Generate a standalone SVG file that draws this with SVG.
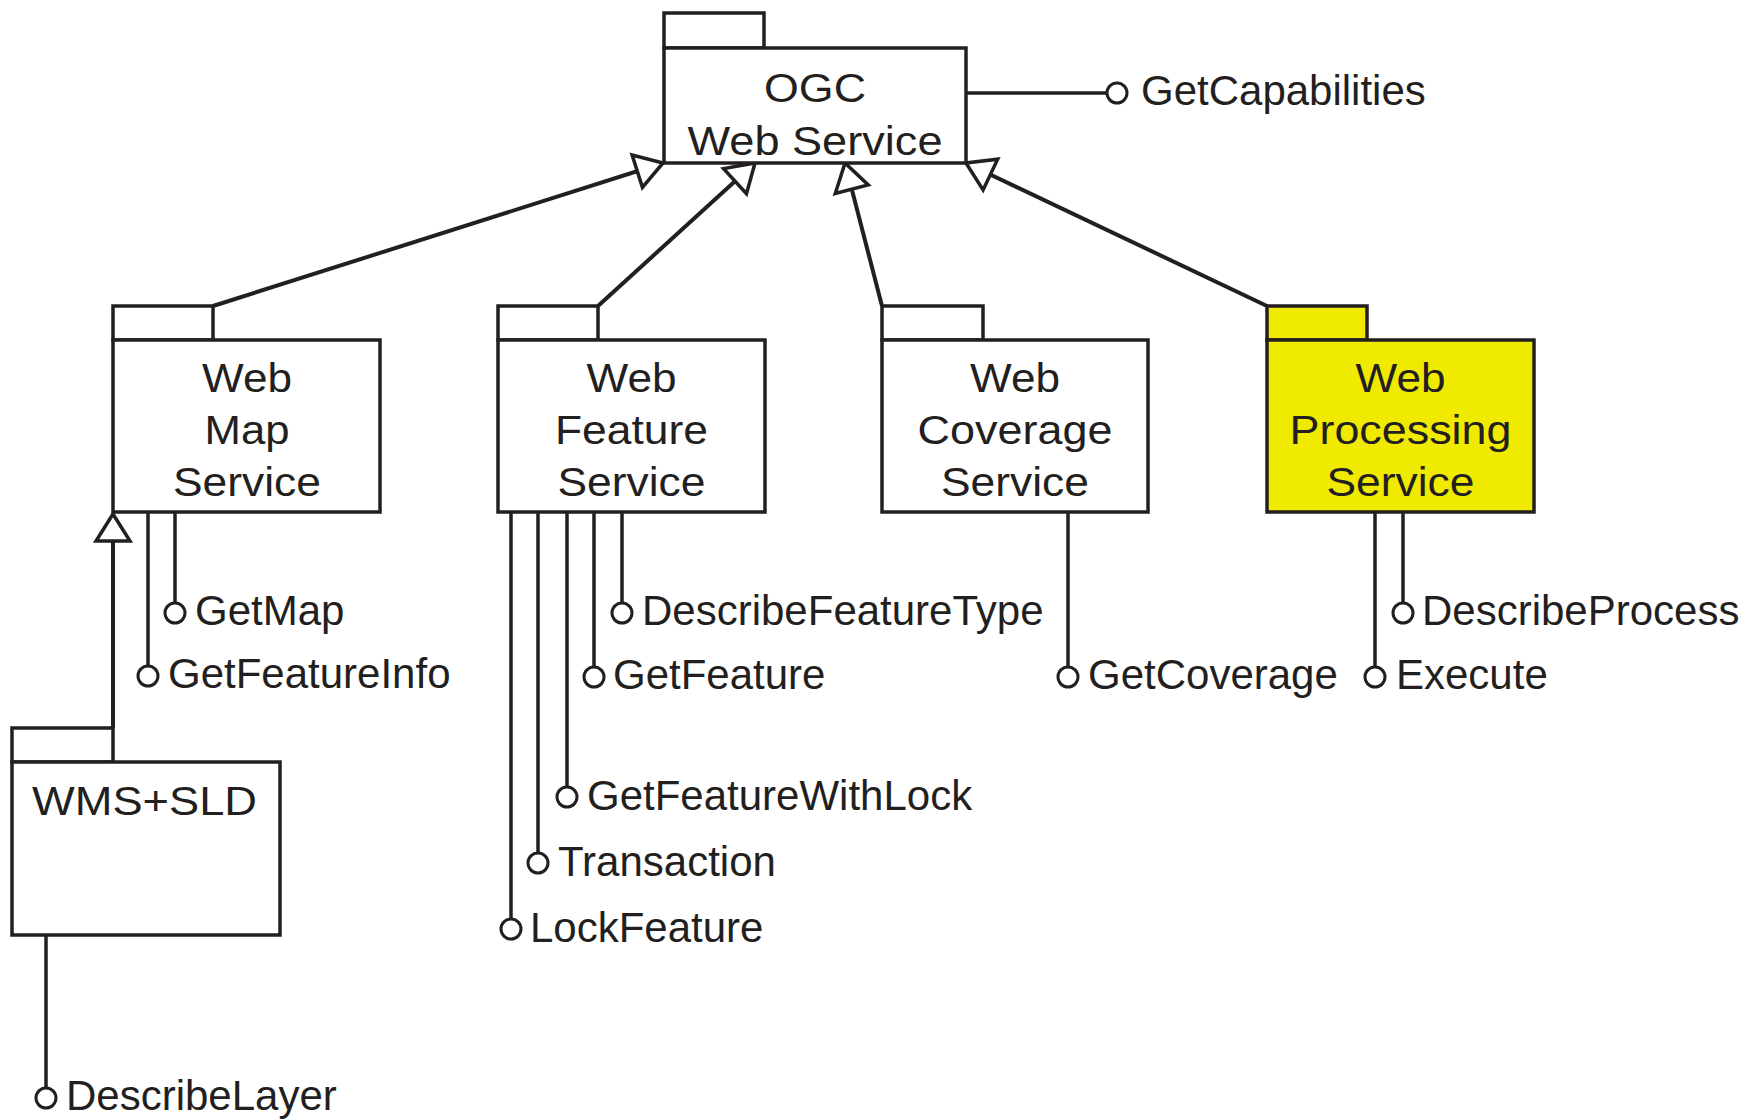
<svg xmlns="http://www.w3.org/2000/svg" width="1748" height="1120" viewBox="0 0 1748 1120">
<style>
.box{fill:#fff;stroke:#231F20;stroke-width:3.5}
.yel{fill:#F0E900;stroke:#231F20;stroke-width:3.5}
.ln{fill:none;stroke:#231F20;stroke-width:3.5}
.gl{fill:none;stroke:#231F20;stroke-width:4}
.ball{fill:#fff;stroke:#231F20;stroke-width:3}
.t{font-family:"Liberation Sans",Arial,sans-serif;font-size:41px;fill:#231F20}
.op{font-size:42px}
.c{text-anchor:middle}
</style>
<defs>
<marker id="gen" markerUnits="userSpaceOnUse" markerWidth="60" markerHeight="60" viewBox="-40 -30 50 60" refX="0" refY="0" orient="auto" overflow="visible">
<path d="M0,0 L-27,-17 L-27,17 Z" fill="#fff" stroke="#231F20" stroke-width="3.5"/>
</marker>
</defs>
<rect width="1748" height="1120" fill="#fff"/>

<g id="connectors">
<line class="gl" x1="213" y1="306" x2="663" y2="163" marker-end="url(#gen)"/>
<line class="gl" x1="598" y1="306" x2="755" y2="163" marker-end="url(#gen)"/>
<line class="gl" x1="882" y1="306" x2="845" y2="163" marker-end="url(#gen)"/>
<line class="gl" x1="1267" y1="306" x2="966" y2="163" marker-end="url(#gen)"/>
<line class="gl" x1="113" y1="728" x2="113" y2="514" marker-end="url(#gen)"/>
</g>

<g id="ogc">
<rect class="box" x="664" y="13" width="100" height="35"/>
<rect class="box" x="664" y="48" width="302" height="115"/>
<text class="t c" x="815" y="102" textLength="102" lengthAdjust="spacingAndGlyphs">OGC</text>
<text class="t c" x="815" y="155" textLength="255" lengthAdjust="spacingAndGlyphs">Web Service</text>
</g>
<g id="op-getcapabilities">
<line class="ln" x1="966" y1="93" x2="1107" y2="93"/>
<circle class="ball" cx="1117" cy="93" r="10"/>
<text class="t op" x="1141" y="105">GetCapabilities</text>
</g>

<g id="wms">
<rect class="box" x="113" y="306" width="100" height="34"/>
<rect class="box" x="113" y="340" width="267" height="172"/>
<text class="t c" x="247" y="392" textLength="90" lengthAdjust="spacingAndGlyphs">Web</text>
<text class="t c" x="247" y="444" textLength="85" lengthAdjust="spacingAndGlyphs">Map</text>
<text class="t c" x="247" y="496" textLength="148" lengthAdjust="spacingAndGlyphs">Service</text>
</g>
<g id="op-getmap">
<line class="ln" x1="175" y1="512" x2="175" y2="603"/>
<circle class="ball" cx="175" cy="613" r="10"/>
<text class="t op" x="195" y="625">GetMap</text>
</g>
<g id="op-getfeatureinfo">
<line class="ln" x1="148" y1="512" x2="148" y2="666"/>
<circle class="ball" cx="148" cy="676" r="10"/>
<text class="t op" x="168" y="688">GetFeatureInfo</text>
</g>

<g id="wfs">
<rect class="box" x="498" y="306" width="100" height="34"/>
<rect class="box" x="498" y="340" width="267" height="172"/>
<text class="t c" x="631.5" y="392" textLength="90" lengthAdjust="spacingAndGlyphs">Web</text>
<text class="t c" x="631.5" y="444" textLength="153" lengthAdjust="spacingAndGlyphs">Feature</text>
<text class="t c" x="631.5" y="496" textLength="148" lengthAdjust="spacingAndGlyphs">Service</text>
</g>
<g id="op-describefeaturetype">
<line class="ln" x1="622" y1="512" x2="622" y2="603"/>
<circle class="ball" cx="622" cy="613" r="10"/>
<text class="t op" x="642" y="625">DescribeFeatureType</text>
</g>
<g id="op-getfeature">
<line class="ln" x1="594" y1="512" x2="594" y2="667"/>
<circle class="ball" cx="594" cy="677" r="10"/>
<text class="t op" x="613" y="689">GetFeature</text>
</g>
<g id="op-getfeaturewithlock">
<line class="ln" x1="567" y1="512" x2="567" y2="787"/>
<circle class="ball" cx="567" cy="797" r="10"/>
<text class="t op" x="587" y="810">GetFeatureWithLock</text>
</g>
<g id="op-transaction">
<line class="ln" x1="538" y1="512" x2="538" y2="853"/>
<circle class="ball" cx="538" cy="863" r="10"/>
<text class="t op" x="558" y="876">Transaction</text>
</g>
<g id="op-lockfeature">
<line class="ln" x1="511" y1="512" x2="511" y2="919"/>
<circle class="ball" cx="511" cy="929" r="10"/>
<text class="t op" x="530" y="942">LockFeature</text>
</g>

<g id="wcs">
<rect class="box" x="882" y="306" width="101" height="34"/>
<rect class="box" x="882" y="340" width="266" height="172"/>
<text class="t c" x="1015" y="392" textLength="90" lengthAdjust="spacingAndGlyphs">Web</text>
<text class="t c" x="1015" y="444" textLength="195" lengthAdjust="spacingAndGlyphs">Coverage</text>
<text class="t c" x="1015" y="496" textLength="148" lengthAdjust="spacingAndGlyphs">Service</text>
</g>
<g id="op-getcoverage">
<line class="ln" x1="1068" y1="512" x2="1068" y2="667"/>
<circle class="ball" cx="1068" cy="677" r="10"/>
<text class="t op" x="1088" y="689">GetCoverage</text>
</g>

<g id="wps">
<rect class="yel" x="1267" y="306" width="100" height="34"/>
<rect class="yel" x="1267" y="340" width="267" height="172"/>
<text class="t c" x="1400.5" y="392" textLength="90" lengthAdjust="spacingAndGlyphs">Web</text>
<text class="t c" x="1400.5" y="444" textLength="222" lengthAdjust="spacingAndGlyphs">Processing</text>
<text class="t c" x="1400.5" y="496" textLength="148" lengthAdjust="spacingAndGlyphs">Service</text>
</g>
<g id="op-describeprocess">
<line class="ln" x1="1403" y1="512" x2="1403" y2="603"/>
<circle class="ball" cx="1403" cy="613" r="10"/>
<text class="t op" x="1422" y="625">DescribeProcess</text>
</g>
<g id="op-execute">
<line class="ln" x1="1375" y1="512" x2="1375" y2="667"/>
<circle class="ball" cx="1375" cy="677" r="10"/>
<text class="t op" x="1396" y="689">Execute</text>
</g>

<g id="wmssld">
<rect class="box" x="12" y="728" width="101" height="34"/>
<rect class="box" x="12" y="762" width="268" height="173"/>
<text class="t" x="32" y="815" textLength="225" lengthAdjust="spacingAndGlyphs">WMS+SLD</text>
</g>
<g id="op-describelayer">
<line class="ln" x1="46" y1="935" x2="46" y2="1088"/>
<circle class="ball" cx="46" cy="1098" r="10"/>
<text class="t op" x="66" y="1110">DescribeLayer</text>
</g>
</svg>
